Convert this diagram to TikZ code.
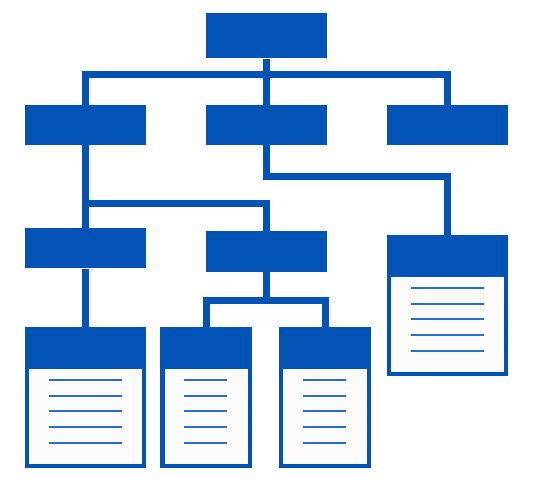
\documentclass[tikz,border=0pt]{standalone}
\usepackage{xcolor}
\usepackage{tikz}
\usetikzlibrary{positioning, backgrounds}
\pgfdeclarelayer{links}
\pgfsetlayers{background,links,main}
\definecolor{orgblue}{HTML}{0353B7}
\definecolor{ruleblue}{HTML}{2A6CC8}
\definecolor{paper}{HTML}{FBFBFB}
\tikzset{
  unit/.style={rectangle, fill=orgblue, inner sep=0pt, minimum width=121pt, minimum height=40pt},
  doc/.style={rectangle, draw=orgblue, line width=4.4pt, fill=paper, inner sep=0pt,
    minimum height=137pt,
    path picture={\fill[orgblue] (path picture bounding box.north west)
      rectangle ([yshift=-40pt]path picture bounding box.north east);}},
  doc/wide/.style={doc, minimum width=116.6pt},
  doc/narrow/.style={doc, minimum width=87.5pt},
  link/.style={draw=orgblue, line width=7pt},
  txtline/.style={draw=ruleblue, line width=2pt},
}
% five text rules inside a document node: #1 node, #2 left, #3 right
\newcommand{\docrules}[3]{%
  \foreach \k in {0,...,4}
    \draw[txtline] ([xshift=#2pt, yshift={-(53+15.7*\k)*1pt}]#1.north)
      -- ([xshift=#3pt, yshift={-(53+15.7*\k)*1pt}]#1.north);}

\begin{document}
\begin{tikzpicture}[x=1pt, y=-1pt]
  \useasboundingbox (0,0) rectangle (550,490);

  % units
  \node[unit, minimum height=45pt] (top) at (266.3,35.8) {};
  \node[unit] (b1) at (85.5,125) {};
  \node[unit] (b2) at (266.3,125) {};
  \node[unit] (b3) at (447.5,125) {};
  \node[unit, minimum height=40.6pt] (c1) at (85.5,248) {};
  \node[unit, minimum height=40.7pt] (c2) at (266.3,251.3) {};

  % documents
  \node[doc/wide] (d3) at (447.5,305.5) {};
  \node[doc/wide] (d0) at (85.5,397.5) {};
  \node[doc/narrow] (d1) at (206.2,397.5) {};
  \node[doc/narrow] (d2) at (325,397.5) {};

  \docrules{d3}{-37}{36}
  \docrules{d0}{-37}{36}
  \docrules{d1}{-22}{21}
  \docrules{d2}{-22}{21}

  % connectors
  \begin{pgfonlayer}{links}
    \draw[link] (top.south) -- ++(0,15.7) coordinate (bus);
    \draw[link] (b1.north) |- (bus) -| (b3.north);
    \draw[link] (bus) -- (b2.north);
    \draw[link] (b2.south) -- ++(0,31) -| (d3.north);
    \draw[link] (b1.south) -- (c1.north);
    \draw[link] (b1.south) ++(0,58) -| (c2.north);
    \draw[link] (c1.south) -- (d0.north);
    \draw[link] (c2.south) -- ++(0,28.3) coordinate (fork);
    \draw[link] (d1.north) |- (fork) -| (d2.north);
  \end{pgfonlayer}
\end{tikzpicture}
\end{document}
